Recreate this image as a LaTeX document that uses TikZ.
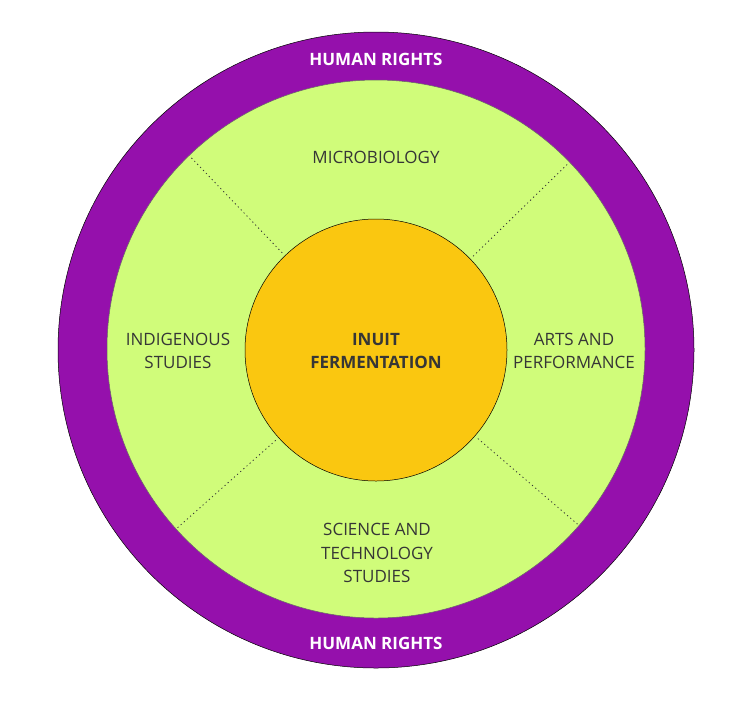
\documentclass[tikz,border=0pt]{standalone}
\usepackage{fontspec}
\setmainfont{Open Sans}
\usepackage{tikz}
\usetikzlibrary{positioning}

\definecolor{rightspurple}{HTML}{9510AC}
\definecolor{fieldgreen}{HTML}{D0FC7A}
\definecolor{coreyellow}{HTML}{FAC710}
\definecolor{labelgrey}{HTML}{363636}

\begin{document}
\begin{tikzpicture}[
  x=1pt, y=-1pt,
  ring/.style={circle, draw=black, line width=0.5pt, inner sep=0pt, outer sep=0pt},
  label/.style={align=center, text=labelgrey, font=\fontsize{17}{23.5}\selectfont},
  rightslabel/.style={align=center, text=white, font=\fontsize{17}{20}\selectfont\bfseries},
  divider/.style={draw=labelgrey, line width=0.8pt, dash pattern=on 1.2pt off 3pt, shorten <=4pt, shorten >=2pt}
]
  \useasboundingbox (0,0) rectangle (754,705);

  \node[ring, fill=rightspurple, minimum size=636] (rights) at (376,350) {};
  \node[ring, fill=fieldgreen, draw=black!60, minimum size=538] (fields) at (376,349) {};
  \node[ring, fill=coreyellow, minimum size=262] (core) at (376,350) {};

  \foreach \a in {44,134,222,319} \draw[divider] (core.\a) -- (fields.\a);

  \node[rightslabel] (rtop) at (376,59) {HUMAN RIGHTS};
  \node[rightslabel] (rbottom) at (376,643) {HUMAN RIGHTS};

  \node[label] (micro) at (376,157) {MICROBIOLOGY};
  \node[label] (indig) at (178,351) {INDIGENOUS\\STUDIES};
  \node[label] (arts) at (574,351) {ARTS AND\\PERFORMANCE};
  \node[label] (sts) at (377,553) {SCIENCE AND\\TECHNOLOGY\\STUDIES};
  \node[label, font=\fontsize{17}{23.5}\selectfont\bfseries] (inuit) at (376,351) {INUIT\\FERMENTATION};
\end{tikzpicture}
\end{document}
